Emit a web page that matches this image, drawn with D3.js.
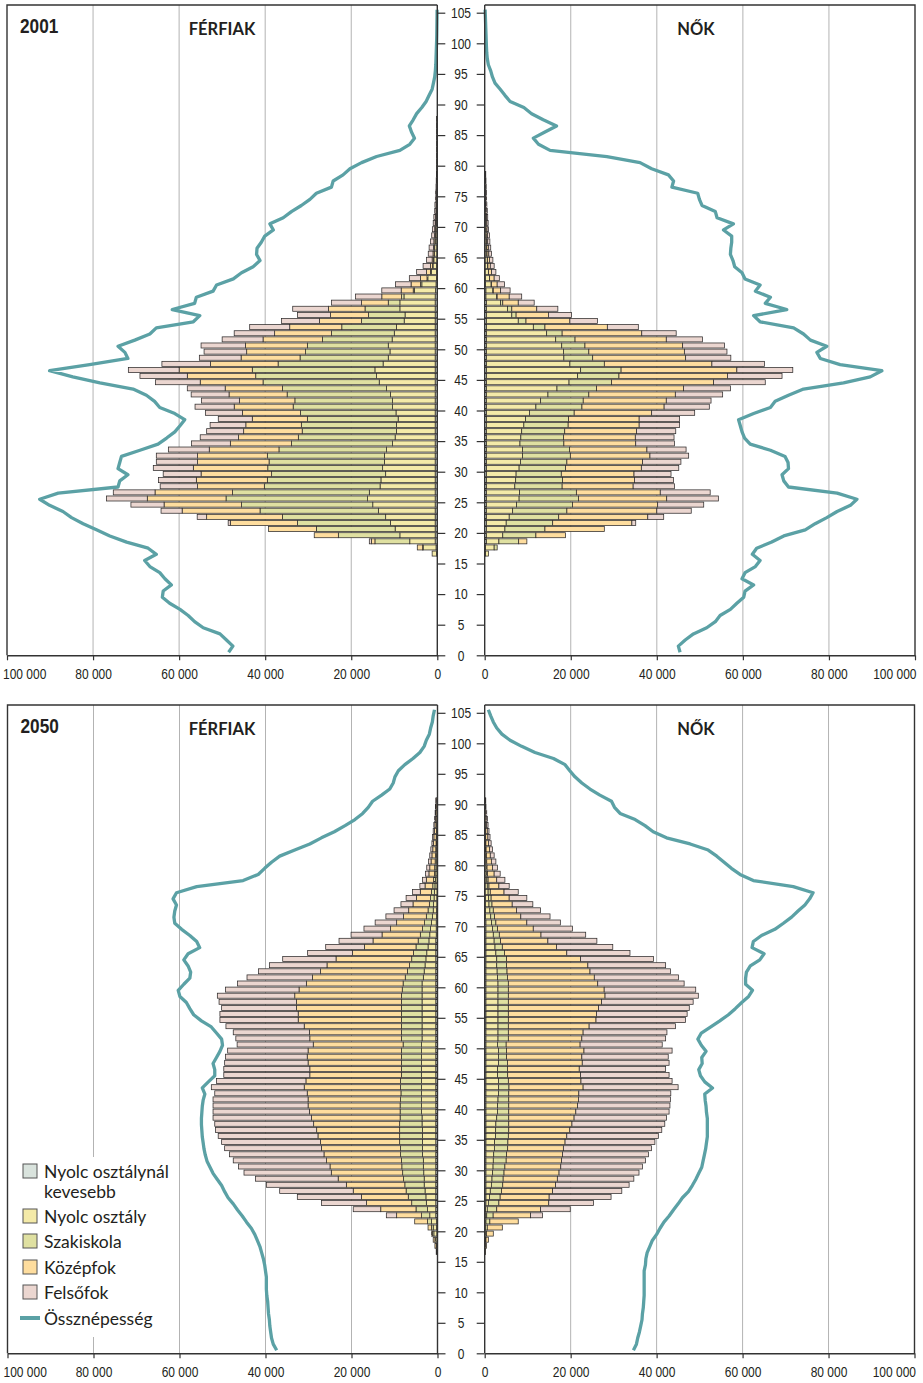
<!DOCTYPE html>
<html><head><meta charset="utf-8">
<script src="https://cdn.jsdelivr.net/npm/d3@7"></script>
<style>
body{margin:0;background:#fff;}
</style></head>
<body><svg id="chart" width="923" height="1383"></svg>
<script>
// ---------- DATA (thousand persons) ----------
const categories = ["Nyolc osztálynál kevesebb","Nyolc osztály","Szakiskola","Középfok","Felsőfok"];
const keys = ["lt8","g8","szak","kozep","felso"];
const barAges = d3.range(15, 91);   // ages 15..90
const lineAges = d3.range(0, 106);  // ages 0..105
const xTickValues = [0, 20, 40, 60, 80, 100];
const ageTickValues = [0,5,10,15,20,25,30,35,40,45,50,55,60,65,70,75,80,85,90,95,100,105];

// 2001 men
const men2001_lt8 = [0,0.2,0.3,0.5,0.5,0.5,0.5,0.5,0.5,0.5,0.5,0.5,0.5,0.5,0.5,0.5,0.5,0.5,0.5,0.5,0.5,0.5,0.5,0.5,0.5,0.5,0.5,0.5,0.5,0.5,0.5,0.5,0.5,0.5,0.5,0.5,0.5,0.5,0.5,0.5,0.5,0.5,0.5,0.5,0.4,0.3,0.2,0.2,0.15,0.1,0.1,0.1,0.1,0.1,0.1,0.1,0.05,0.05,0.05,0.05,0.05,0.03,0.03,0.02,0.02,0.02,0.02,0.02,0.02,0.02,0.02,0.02,0.02,0,0,0];
const men2001_g8 = [0,1.0,3.0,5.9,8.2,9.3,10.4,11.5,13.2,14.5,15.7,15.3,12.8,12.6,11.5,12.2,11.8,11.8,11.3,9.9,9.3,9.0,9.0,8.6,9.1,9.9,9.9,10.4,11.3,13.0,13.6,14.0,12.1,10.9,10.5,10.9,10.0,9.5,9.0,7.2,7.0,8.2,8.2,7.25,4.9,3.3,2.0,1.2,0.85,0.7,0.55,0.5,0.4,0.3,0.25,0.2,0.2,0.15,0.13,0.1,0.08,0.07,0.05,0.05,0.05,0.05,0.05,0.05,0.05,0.05,0.05,0.05,0.05,0,0,0];
const men2001_szak = [0,0,0.1,8.1,14.3,18.3,21.6,24.0,27.5,30.5,32.9,31.8,26.9,26.4,26.5,26.7,26.8,27.2,25.0,23.5,22.5,21.9,22.1,21.1,22.2,23.1,22.7,24.0,24.2,27.0,28.1,28.5,24.4,20.5,19.6,18.8,16.2,14.6,12.7,9.9,8.5,8.1,2.7,0.55,0.3,0.3,0.2,0.2,0.1,0.1,0.05,0.05,0.05,0.05,0.05,0.03,0.03,0.02,0.02,0.02,0.02,0.01,0.01,0.01,0,0,0,0,0,0,0,0,0,0,0,0];
const men2001_kozep = [0,0,1.25,0.8,5.6,11.1,15.6,17.6,18.1,18.0,18.3,18.0,15.5,16.5,16.4,17.3,16.6,16.2,16.2,14.2,13.9,13.6,12.9,12.8,13.5,13.7,12.9,13.5,13.3,14.6,15.9,17.0,15.7,13.7,13.7,14.4,13.8,13.2,12.1,9.8,8.8,8.5,6.2,4.6,2.8,2.2,1.5,0.9,0.5,0.3,0.3,0.25,0.25,0.2,0.2,0.17,0.12,0.1,0.08,0.07,0.05,0.05,0.04,0.02,0.02,0.02,0.02,0.02,0.02,0.02,0.02,0.02,0.02,0,0,0];
const men2001_felso = [0,0,0,0.5,0,0,0.5,2.2,4.9,7.7,9.5,9.7,8.7,8.8,8.8,9.3,9.6,9.6,9.5,9.0,8.9,8.6,8.3,7.9,8.6,9.1,8.8,8.8,8.8,10.4,11.0,11.8,11.3,9.7,9.9,10.3,9.5,9.4,9.3,8.8,7.7,8.3,7.0,6.1,4.5,3.6,2.6,2.3,1.7,1.3,1.1,1.0,0.8,0.65,0.55,0.45,0.4,0.28,0.27,0.21,0.2,0.14,0.12,0.1,0.06,0.06,0.06,0.06,0.06,0.06,0.06,0.06,0.06,0,0,0];

// 2001 women
const women2001_lt8 = [0,0.2,0.2,0.4,0.4,0.4,0.4,0.4,0.4,0.4,0.4,0.4,0.4,0.4,0.4,0.4,0.4,0.4,0.4,0.4,0.4,0.4,0.4,0.4,0.4,0.4,0.4,0.4,0.4,0.4,0.4,0.4,0.4,0.4,0.4,0.4,0.4,0.4,0.4,0.4,0.4,0.4,0.4,0.3,0.3,0.2,0.15,0.1,0.1,0.1,0.1,0.1,0.1,0.1,0.05,0.05,0.05,0.05,0.04,0.04,0.03,0.03,0.03,0.02,0,0,0,0,0,0,0,0,0,0,0,0];
const women2001_g8 = [0,0.7,2.0,2.9,3.8,4.3,4.6,5.3,6.1,7.0,7.6,7.7,6.6,6.8,6.9,7.6,7.9,8.4,8.4,7.8,8.0,8.2,8.7,9.1,10.0,11.5,12.6,14.3,16.4,19.2,21.2,21.9,19.4,18.0,17.9,17.5,16.1,14.0,10.9,7.4,5.9,4.9,3.3,2.5,1.6,1.3,0.95,0.75,0.6,0.5,0.4,0.35,0.3,0.25,0.25,0.21,0.17,0.15,0.12,0.11,0.1,0.08,0.07,0.06,0,0,0,0,0,0,0,0,0,0,0,0];
const women2001_szak = [0,0,0.7,4.6,7.7,9.3,10.8,11.5,12.6,13.0,13.8,13.2,11.0,10.9,10.5,10.8,10.8,11.1,10.9,10.2,9.9,10.0,10.3,10.0,10.4,10.7,9.9,9.5,9.2,9.9,9.6,9.4,8.0,6.7,5.9,5.4,4.5,3.6,2.7,1.8,1.0,1.0,0.5,0.1,0.1,0.1,0.05,0.05,0.05,0.05,0.05,0.05,0.02,0.02,0.02,0.02,0.02,0.01,0.01,0.01,0.01,0.01,0.01,0.01,0,0,0,0,0,0,0,0,0,0,0,0];
const women2001_kozep = [0,0,0,1.9,6.9,13.8,18.4,20.7,20.9,19.8,20.5,19.5,16.5,16.7,16.9,17.6,17.6,18.5,18.0,16.7,16.7,16.7,16.5,16.4,18.0,19.1,19.3,20.1,20.2,23.7,25.2,26.9,25.0,21.6,22.2,22.7,21.2,18.5,14.5,10.2,7.5,5.8,3.6,2.8,1.7,1.3,1.05,0.7,0.55,0.45,0.4,0.35,0.28,0.28,0.23,0.22,0.19,0.16,0.13,0.11,0.1,0.09,0.07,0.06,0,0,0,0,0,0,0,0,0,0,0,0];
const women2001_felso = [0,0,0,0,0,0,0.9,3.7,8.0,10.7,12.0,11.6,9.6,9.1,8.6,8.7,8.9,9.0,9.1,9.0,9.0,9.1,9.4,9.4,10.0,10.5,10.4,11.0,10.9,12.0,12.7,13.0,12.2,10.5,9.9,9.7,8.4,8.0,7.2,6.4,5.4,4.9,3.7,2.9,2.2,1.7,1.2,1.0,0.9,0.8,0.65,0.55,0.5,0.45,0.35,0.3,0.27,0.23,0.2,0.18,0.16,0.14,0.12,0.1,0,0,0,0,0,0,0,0,0,0,0,0];

// 2050 men
const men2050_lt8 = [0,0.02,0.05,0.1,0.15,0.2,0.2,0.4,0.4,0.4,0.4,0.4,0.4,0.4,0.4,0.4,0.4,0.4,0.4,0.4,0.4,0.4,0.4,0.4,0.4,0.4,0.4,0.4,0.4,0.4,0.4,0.4,0.4,0.4,0.4,0.4,0.4,0.4,0.4,0.4,0.4,0.4,0.4,0.4,0.4,0.4,0.4,0.4,0.4,0.4,0.4,0.4,0.4,0.3,0.3,0.3,0.2,0.2,0.15,0.15,0.1,0.1,0.1,0.08,0.07,0.06,0.05,0.04,0.04,0.03,0.03,0.02,0.02,0.02,0.01,0.01];
const men2050_g8 = [0,0.08,0.15,0.3,0.7,0.8,1.2,1.4,1.9,2.2,2.3,2.5,2.7,2.7,2.8,2.9,2.9,3.1,3.1,3.1,3.1,3.1,3.2,3.2,3.3,3.3,3.3,3.3,3.3,3.3,3.3,3.3,3.3,3.3,3.3,3.3,3.2,3.2,3.2,3.2,3.2,3.2,3.2,3.2,3.2,3.2,2.9,2.7,2.5,2.3,2.1,1.8,1.6,1.5,1.3,1.1,1.0,0.8,0.75,0.65,0.6,0.5,0.4,0.32,0.28,0.24,0.2,0.18,0.14,0.13,0.11,0.1,0.08,0.06,0.05,0.04];
const men2050_szak = [0,0.05,0.1,0.2,0.35,0.4,0.9,1.9,2.7,3.4,4.1,4.4,4.5,4.8,4.9,5.0,5.1,5.1,5.1,5.3,5.3,5.3,5.2,5.1,5.0,5.0,4.9,4.8,4.9,4.9,4.7,4.7,4.7,4.7,4.7,4.3,4.8,4.8,4.8,4.8,4.8,4.8,4.8,4.8,4.6,4.4,4.2,3.9,3.6,3.3,3.1,2.8,2.5,2.2,1.9,1.6,1.4,1.2,1.0,0.8,0.7,0.5,0.4,0.3,0.3,0.25,0.2,0.18,0.16,0.14,0.12,0.1,0.08,0.06,0.06,0.05];
const men2050_kozep = [0,0.15,0.3,0.4,0.2,0.8,3.0,5.8,8.2,10.5,10.9,12.3,13.6,15.2,16.6,16.7,17.4,17.8,18.4,18.4,19.0,19.3,20.0,20.6,21.1,21.4,21.5,21.8,22.4,22.0,21.3,21.3,21.7,21.9,21.7,20.9,21.3,21.4,22.6,24.0,24.0,24.4,24.4,24.8,24.0,22.5,21.6,20.2,19.2,17.6,14.2,12.0,10.5,8.9,7.4,6.5,5.3,4.5,3.8,3.3,2.6,1.8,1.7,1.3,1.15,0.95,0.85,0.7,0.61,0.55,0.46,0.38,0.32,0.26,0.21,0.18];
const men2050_felso = [0,0,0,0,0,0,0,2.4,6.4,10.5,14.9,17.1,18.6,19.2,20.3,21.3,21.7,22.0,22.5,23.0,23.2,23.5,23.0,22.9,22.4,22.1,22.1,21.5,21.6,20.8,20.0,20.0,19.4,19.0,18.7,17.7,17.2,17.7,18.2,18.2,18.2,17.4,18.0,18.0,17.1,16.0,15.2,14.4,13.4,12.4,10.4,9.0,7.9,7.2,6.2,5.0,4.1,3.4,2.8,2.4,1.8,1.2,0.9,0.8,0.7,0.6,0.5,0.45,0.35,0.31,0.28,0.25,0.2,0.15,0.12,0.12];

// 2050 women
const women2050_lt8 = [0,0.02,0.03,0.05,0.05,0.05,0.1,0.15,0.2,0.3,0.3,0.3,0.3,0.3,0.3,0.3,0.3,0.3,0.3,0.3,0.3,0.3,0.3,0.3,0.3,0.3,0.3,0.3,0.3,0.3,0.3,0.3,0.3,0.3,0.3,0.3,0.3,0.3,0.3,0.3,0.3,0.3,0.3,0.3,0.3,0.3,0.3,0.3,0.3,0.3,0.3,0.3,0.3,0.3,0.3,0.3,0.2,0.2,0.15,0.15,0.1,0.1,0.1,0.08,0.07,0.06,0.05,0.04,0.04,0.03,0.03,0.02,0.02,0.01,0.01,0.01];
const women2050_g8 = [0,0.03,0.07,0.15,0.1,0.1,0.2,0.32,0.4,0.55,0.8,1.0,1.25,1.4,1.55,1.65,1.7,1.8,1.95,2.0,2.2,2.25,2.3,2.5,2.65,2.7,2.8,2.9,2.95,2.9,2.7,2.7,2.9,2.9,2.9,2.65,2.8,2.8,2.8,2.8,2.8,2.8,2.8,2.8,2.8,2.8,2.7,2.6,2.5,2.5,2.3,2.1,1.9,1.7,1.5,1.3,1.2,1.0,0.85,0.75,0.7,0.5,0.4,0.32,0.28,0.24,0.2,0.16,0.13,0.11,0.09,0.07,0.05,0.04,0.03,0.02];
const women2050_szak = [0,0.05,0.1,0.1,0.25,0.45,0.9,1.5,2.2,2.45,2.5,2.6,2.65,2.6,2.65,2.75,3.0,3.0,3.1,3.1,3.0,3.05,3.0,2.8,2.65,2.6,2.5,2.4,2.4,2.3,2.35,2.3,2.1,1.9,1.9,2.05,2.4,2.4,2.4,2.4,2.4,2.4,2.4,2.4,2.4,2.4,2.3,2.3,2.3,2.3,2.0,1.7,1.5,1.4,1.2,1.0,0.9,0.8,0.7,0.6,0.5,0.4,0.3,0.25,0.2,0.18,0.15,0.13,0.11,0.09,0.07,0.06,0.05,0.04,0.02,0.02];
const women2050_kozep = [0,0.1,0.2,0.55,1.6,3.5,6.6,8.7,10.2,11.6,11.4,11.9,12.3,12.6,12.8,13.0,12.9,13.0,12.95,13.3,13.6,14.2,14.7,15.2,15.6,16.0,16.2,16.3,17.25,16.9,16.95,16.7,17.4,17.5,18.0,17.2,17.1,17.4,18.8,20.4,20.5,21.0,21.7,22.5,22.3,20.8,20.2,19.3,18.9,17.2,14.5,12.6,11.0,9.7,8.3,7.2,6.1,5.4,4.7,4.2,3.2,2.3,2.0,1.55,1.25,1.07,0.9,0.77,0.62,0.52,0.41,0.32,0.25,0.19,0.12,0.1];
const women2050_felso = [0,0,0,0,0,0,0,2.8,6.9,10.4,14.4,16.1,17.1,17.8,18.6,19.0,19.5,20.0,20.5,20.9,21.3,21.4,21.6,21.5,21.7,21.5,21.4,21.4,22.1,21.2,20.6,20.1,20.2,20.1,20.5,19.1,19.5,19.5,20.1,20.8,21.1,21.1,21.3,21.7,21.3,20.1,19.6,18.7,18.1,17.0,14.7,13.1,11.4,10.4,9.1,7.8,6.8,5.6,4.8,4.1,3.3,2.4,1.9,1.4,1.2,1.05,0.9,0.7,0.6,0.49,0.4,0.31,0.25,0.19,0.12,0.1];

// Total population (Össznépesség), ages 0..105
const menTotal2001 = [48.5,47.5,49.0,50.5,54.4,56.4,57.9,59.8,62.2,63.9,63.7,61.8,63.3,64.5,66.8,68.0,65.3,67.2,72.2,76.1,79.2,82.3,85.0,87.0,90.1,92.4,88.1,74.2,73.8,71.9,74.2,73.8,73.4,69.1,64.9,62.9,61.0,59.8,58.7,61.0,64.5,65.7,67.6,70.7,78.4,84.7,90.1,80.8,71.9,72.6,74.2,70.3,66.8,65.3,56.7,55.2,61.6,56.4,56.0,52.1,51.3,47.4,45.5,42.8,41.2,42.0,41.9,40.9,40.1,38.1,38.9,35.8,33.9,31.6,29.6,28.1,24.6,24.2,21.9,20.3,17.6,14.1,8.7,6.4,5.3,6.0,6.5,5.6,4.8,3.6,2.6,1.9,1.2,0.9,0.6,0.45,0.35,0.3,0.25,0.2,0.15,0.12,0.1,0.08,0.06,0.05];
const womenTotal2001 = [45.4,45.0,46.6,48.5,51.6,53.6,54.7,57.1,58.6,60.2,60.5,62.5,59.8,60.5,62.9,64.0,62.2,63.2,66.7,69.5,74.5,76.8,79.5,81.9,85.0,86.5,81.9,70.6,69.5,69.1,70.6,70.5,69.8,66.4,61.7,60.4,59.8,59.4,59.0,62.5,66.4,67.5,70.6,74.1,83.4,89.6,92.3,82.6,78.0,77.2,79.5,75.7,74.1,71.8,64.0,62.5,70.2,65.2,66.4,62.9,64.0,60.5,59.8,58.1,57.7,57.1,57.2,57.4,57.4,55.5,57.8,54.0,53.6,50.5,49.9,49.5,43.5,43.9,42.7,38.8,36.1,28.4,15.2,12.5,11.3,14.0,16.7,13.6,10.9,9.1,5.9,4.7,3.6,2.4,1.8,1.4,0.85,0.6,0.47,0.4,0.35,0.3,0.25,0.2,0.15,0.1];
const menTotal2050 = [37.4,38.2,38.6,38.8,39.0,39.1,39.3,39.4,39.5,39.7,39.8,39.8,39.8,40.0,40.2,40.5,40.9,41.3,41.9,42.5,43.3,44.4,45.4,46.5,47.5,48.7,49.5,50.2,51.2,52.2,52.9,53.6,54.0,54.3,54.5,54.7,54.8,54.9,54.9,54.8,54.7,54.5,54.1,54.7,53.3,51.8,51.8,52.2,51.4,50.6,50.0,50.2,51.4,52.6,54.9,56.7,57.6,58.4,59.9,60.3,59.0,57.6,57.4,58.0,59.0,58.0,55.3,56.0,57.6,59.5,61.1,61.3,61.1,60.7,61.5,60.7,56.0,45.2,41.7,40.2,38.6,36.7,33.2,29.7,27.0,24.0,21.5,19.2,17.4,16.1,15.1,13.0,11.1,10.3,9.9,9.1,7.6,5.7,4.1,3.1,2.6,1.9,1.6,1.2,1.0,0.7];
const womenTotal2050 = [34.6,35.3,35.6,36.0,36.3,36.6,36.7,36.9,37.0,37.1,37.1,37.1,37.1,37.1,37.4,37.5,37.8,38.4,39.0,40.0,40.8,41.7,42.9,43.9,45.0,46.0,47.4,48.3,49.1,49.8,50.5,50.8,51.1,51.4,51.6,51.8,51.8,51.8,51.8,51.6,51.5,51.3,51.2,53.0,51.2,50.2,49.8,50.6,50.5,51.5,50.4,49.6,50.4,52.6,54.7,56.7,58.3,59.8,61.4,62.3,60.7,60.7,60.9,61.8,64.0,65.0,62.2,62.5,64.4,67.5,69.5,71.4,72.9,74.5,75.6,76.4,71.8,62.5,59.4,57.4,55.7,54.0,52.0,47.8,42.3,39.2,37.3,35.0,31.5,30.2,29.5,26.8,24.5,22.6,21.0,19.8,18.7,16.0,11.7,8.6,5.9,4.0,2.8,2.0,1.4,0.85];

// ---------- STYLE ----------
const COLORS = ["#d9e3dd","#f4eaa8","#dfe0a1","#fedd9e","#ebd6d0"];
const LINE_COLOR = "#5ba1a5";
const INK = "#231f20";
const FONT_C = "'Liberation Sans',Arial,sans-serif";
const SQUEEZE = 0.8;   // condensed look for tick labels
const TICK_FS = 15;
const FONT = "Lato,'Noto Sans',sans-serif";

const svg = d3.select("#chart");
const fmt = d3.formatLocale({decimal:",", thousands:" ", grouping:[3], currency:["",""]}).format(",d");

function buildRows(arrs){
  return barAges.map((a,i)=>{
    const r = {age:a};
    keys.forEach((k,j)=>{ r[k] = arrs[j][i]; });
    return r;
  });
}

function panel(cfg){
  const y = d3.scaleLinear().domain([0,105]).range([cfg.y0, cfg.y105]);
  const xL = d3.scaleLinear().domain([0,100]).range([cfg.xl0, cfg.xl100]);
  const xR = d3.scaleLinear().domain([0,100]).range([cfg.xr0, cfg.xr100]);
  const g = svg.append("g");
  const gridVals = [20,40,60,80];

  // grid
  g.selectAll(".gl").data(gridVals).join("line")
    .attr("x1", d=>xL(d)).attr("x2", d=>xL(d))
    .attr("y1", cfg.frameTop).attr("y2", cfg.y0)
    .attr("stroke","#b3b3b3").attr("stroke-width",1);
  g.selectAll(".gr").data(gridVals).join("line")
    .attr("x1", d=>xR(d)).attr("x2", d=>xR(d))
    .attr("y1", cfg.frameTop).attr("y2", cfg.y0)
    .attr("stroke","#b3b3b3").attr("stroke-width",1);

  const stack = d3.stack().keys(keys);
  const sides = [
    {series: stack(buildRows(cfg.men)), left:true},
    {series: stack(buildRows(cfg.women)), left:false}
  ];
  sides.forEach(side=>{
    side.series.forEach((s,si)=>{
      g.append("g").selectAll("rect")
        .data(s.filter(d=>d[1]-d[0] > 0))
        .join("rect")
        .attr("x", d=> side.left ? xL(d[1]) : xR(d[0]))
        .attr("width", d=> side.left ? xL(d[0])-xL(d[1]) : xR(d[1])-xR(d[0]))
        .attr("y", d=> y(d.data.age+1) - 0.2)
        .attr("height", d=> y(d.data.age) - y(d.data.age+1) - 1.1)
        .attr("fill", COLORS[si])
        .attr("stroke", "#2e2b2b")
        .attr("stroke-width", 0.75);
    });
  });

  // total population lines
  const lineL = d3.line().x(d=>xL(d.v)).y(d=>y(d.age+0.5));
  const lineR = d3.line().x(d=>xR(d.v)).y(d=>y(d.age+0.5));
  g.append("path").datum(lineAges.map((a,i)=>({age:a, v:cfg.menTotal[i]})))
    .attr("d", lineL).attr("fill","none").attr("stroke",LINE_COLOR)
    .attr("stroke-width",3.3).attr("stroke-linejoin","round");
  g.append("path").datum(lineAges.map((a,i)=>({age:a, v:cfg.womenTotal[i]})))
    .attr("d", lineR).attr("fill","none").attr("stroke",LINE_COLOR)
    .attr("stroke-width",3.3).attr("stroke-linejoin","round");

  // frames
  const fr = g.append("g").attr("fill","none").attr("stroke","#333").attr("stroke-width",1.4);
  fr.append("path").attr("d", `M${cfg.xl0},${cfg.frameTop}H${cfg.xl100}V${cfg.y0}`);
  fr.append("path").attr("d", `M${cfg.xr0},${cfg.frameTop}H${cfg.xr100}V${cfg.y0}`);
  fr.append("line").attr("x1",cfg.xl0).attr("x2",cfg.xl0).attr("y1",cfg.frameTop).attr("y2",cfg.y0);
  fr.append("line").attr("x1",cfg.xr0).attr("x2",cfg.xr0).attr("y1",cfg.frameTop).attr("y2",cfg.y0);

  // x axes
  const axL = g.append("g").attr("transform",`translate(0,${cfg.y0})`)
    .call(d3.axisBottom(xL).tickValues(xTickValues).tickSize(5).tickSizeOuter(0).tickPadding(8.5).tickFormat(d=>fmt(d*1000)));
  const axR = g.append("g").attr("transform",`translate(0,${cfg.y0})`)
    .call(d3.axisBottom(xR).tickValues(xTickValues).tickSize(5).tickSizeOuter(0).tickPadding(8.5).tickFormat(d=>fmt(d*1000)));
  [axL, axR].forEach(ax=>{
    ax.select(".domain").attr("stroke","#333").attr("stroke-width",1.4);
    ax.selectAll(".tick line").attr("stroke","#333").attr("stroke-width",1.2);
    ax.selectAll("text").attr("font-family",FONT_C).attr("font-size",TICK_FS).attr("fill",INK)
      .attr("transform",`scale(${SQUEEZE},1)`);
  });
  axL.selectAll(".tick").filter(d=>d===100).select("text").attr("text-anchor","start").attr("x",-4.5/SQUEEZE);
  axR.selectAll(".tick").filter(d=>d===100).select("text").attr("text-anchor","end").attr("x",1/SQUEEZE);

  // age axis
  const ayL = g.append("g").attr("transform",`translate(${cfg.xl0},0)`)
    .call(d3.axisRight(y).tickValues(ageTickValues).tickSize(8).tickSizeOuter(0));
  ayL.select(".domain").remove();
  ayL.selectAll(".tick line").attr("stroke","#333").attr("stroke-width",1.2);
  ayL.selectAll("text").attr("x", (cfg.xr0-cfg.xl0)/2/SQUEEZE).attr("text-anchor","middle")
    .attr("transform",`scale(${SQUEEZE},1)`)
    .attr("font-family",FONT_C).attr("font-size",TICK_FS).attr("fill",INK);
  const ayR = g.append("g").attr("transform",`translate(${cfg.xr0},0)`)
    .call(d3.axisLeft(y).tickValues(ageTickValues).tickSize(8).tickSizeOuter(0).tickFormat(""));
  ayR.select(".domain").remove();
  ayR.selectAll(".tick line").attr("stroke","#333").attr("stroke-width",1.2);

  // titles
  g.append("text").attr("x",(cfg.xl100+13)/0.82).attr("y",cfg.frameTop+28).text(cfg.year)
    .attr("transform",`scale(0.82,1)`)
    .attr("font-family",FONT_C).attr("font-weight","bold").attr("font-size",21).attr("fill",INK);
  g.append("text").attr("x",222).attr("y",cfg.frameTop+30).attr("text-anchor","middle").text("FÉRFIAK")
    .attr("font-family",FONT).attr("font-weight","bold").attr("font-size",16.5).attr("fill",INK);
  g.append("text").attr("x",696).attr("y",cfg.frameTop+30).attr("text-anchor","middle").text("NŐK")
    .attr("font-family",FONT).attr("font-weight","bold").attr("font-size",16.5).attr("fill",INK);
  return g;
}

panel({year:"2001", frameTop:5, y0:655.3, y105:12.7, xl0:437.3, xl100:7, xr0:484.7, xr100:915,
  men:[men2001_lt8,men2001_g8,men2001_szak,men2001_kozep,men2001_felso],
  women:[women2001_lt8,women2001_g8,women2001_szak,women2001_kozep,women2001_felso],
  menTotal:menTotal2001, womenTotal:womenTotal2001});

panel({year:"2050", frameTop:705, y0:1353.3, y105:712.8, xl0:437.5, xl100:7.5, xr0:484.7, xr100:914.5,
  men:[men2050_lt8,men2050_g8,men2050_szak,men2050_kozep,men2050_felso],
  women:[women2050_lt8,women2050_g8,women2050_szak,women2050_kozep,women2050_felso],
  menTotal:menTotal2050, womenTotal:womenTotal2050});

// ---------- LEGEND ----------
const lg = svg.append("g");
lg.append("rect").attr("x",14).attr("y",1157).attr("width",158).attr("height",180).attr("fill","#fff");
const legendItems = [
  {lines:["Nyolc osztálynál","kevesebb"], y:1171},
  {lines:["Nyolc osztály"], y:1216},
  {lines:["Szakiskola"], y:1241},
  {lines:["Középfok"], y:1267},
  {lines:["Felsőfok"], y:1292}
];
legendItems.forEach((it,i)=>{
  lg.append("rect").attr("x",23).attr("y",it.y-7).attr("width",14).attr("height",14)
    .attr("fill",COLORS[i]).attr("stroke","#555").attr("stroke-width",1);
  it.lines.forEach((t,j)=>{
    lg.append("text").attr("x",44).attr("y",it.y+6.5+j*20).text(t)
      .attr("font-family",FONT).attr("font-size",17.5).attr("fill",INK);
  });
});
lg.append("line").attr("x1",20).attr("x2",40).attr("y1",1318).attr("y2",1318)
  .attr("stroke",LINE_COLOR).attr("stroke-width",4);
lg.append("text").attr("x",44).attr("y",1324.5).text("Össznépesség")
  .attr("font-family",FONT).attr("font-size",17.5).attr("fill",INK);
</script>
</body></html>
